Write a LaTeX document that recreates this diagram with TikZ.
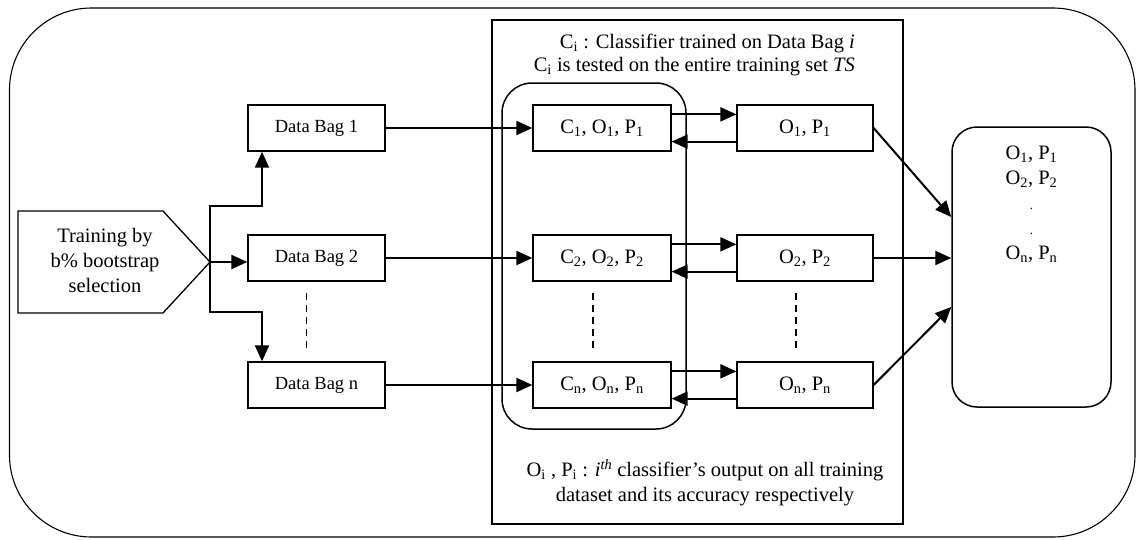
\documentclass[tikz,border=0pt]{standalone}
\usepackage{fontspec}
\setmainfont{Liberation Serif}
\usetikzlibrary{arrows.meta,calc}
\newcommand\sbs[1]{\textsubscript{#1}}
\newcommand\tinydot{{\fontsize{13}{25}\selectfont .}}
\begin{document}
\begin{tikzpicture}[x=1pt,y=-1pt,
 box/.style={draw,line width=1.3pt,minimum height=46pt,inner sep=0pt,font=\fontsize{20.5}{24}\selectfont},
 bag/.style={box,minimum width=137pt,font=\fontsize{18.5}{22}\selectfont},
 cbox/.style={box,minimum width=138pt},
 obox/.style={box,minimum width=136pt},
 arr/.style={line width=2pt,-{Triangle[length=16pt,width=14pt]}},
 dashes/.style={line width=1.3pt,dash pattern=on 7pt off 5pt},
 txt/.style={font=\fontsize{20.5}{24}\selectfont,inner sep=0pt}]
\useasboundingbox (0,0) rectangle (1136,539);
\draw[line width=1.1pt,rounded corners=82pt] (9.5,8) rectangle (1135,537);
\draw[line width=1.3pt] (492,20) rectangle (903,524);
\draw[line width=1.5pt,rounded corners=30pt] (502,83) rectangle (686,429);
% pentagon
\draw[line width=1.3pt] (18,211) -- (163,211) -- (210,262) -- (163,313) -- (18,313) -- cycle;
\node[txt,align=center,font=\fontsize{20.5}{25}\selectfont] (train) at (105,260) {Training by\\b\% bootstrap\\selection};
\coordinate (tip) at (210,262);
% bags
\node[bag] (db1) at (316.5,128) {Data Bag 1};
\node[bag] (db2) at (316.5,258) {Data Bag 2};
\node[bag] (dbn) at (316.5,385) {Data Bag n};
% classifiers
\node[cbox] (c1) at (602,128) {C\sbs{1}, O\sbs{1}, P\sbs{1}};
\node[cbox] (c2) at (602,258) {C\sbs{2}, O\sbs{2}, P\sbs{2}};
\node[cbox] (cn) at (602,385) {C\sbs{n}, O\sbs{n}, P\sbs{n}};
% outputs
\node[obox] (o1) at (805,128) {O\sbs{1}, P\sbs{1}};
\node[obox] (o2) at (805,258) {O\sbs{2}, P\sbs{2}};
\node[obox] (on) at (805,385) {O\sbs{n}, P\sbs{n}};
% final
\node[draw,line width=1.5pt,rounded corners=25pt,minimum width=159pt,minimum height=280pt,inner sep=0pt] (fin) at (1031.5,267) {};
\node[txt,align=center,anchor=north,font=\fontsize{20.5}{25}\selectfont] (fintxt) at (1031.5,146) {O\sbs{1}, P\sbs{1}\\O\sbs{2}, P\sbs{2}\\\tinydot\\\tinydot\\O\sbs{n}, P\sbs{n}};
% annotations
\node[txt,align=right,anchor=north east,font=\fontsize{20.5}{23}\selectfont] (toptxt) at (855,34) {C\sbs{i} : Classifier trained on Data Bag \textit{i}\\C\sbs{i} is tested on the entire training set \textit{TS}};
\node[txt,align=center,anchor=north,font=\fontsize{20.5}{25}\selectfont] (bottxt) at (705,459) {O\sbs{i} , P\sbs{i} : \textit{i}\textsuperscript{\textit{th}} classifier’s output on all training\\dataset and its accuracy respectively};
% branching arrows
\coordinate (bt) at (262,206);
\coordinate (bb) at (262,312);
\draw[arr] (tip) -- (db2.west|-tip);
\draw[arr] (tip) -- (tip|-bt) -- (bt) -- (bt|-db1.south);
\draw[arr] (tip) -- (tip|-bb) -- (bb) -- (bb|-dbn.north);
% bag to classifier
\draw[arr] (db1.east) -- (c1.west);
\draw[arr] (db2.east) -- (c2.west);
\draw[arr] (dbn.east) -- (cn.west);
% classifier <-> output
\foreach \c/\o in {c1/o1,c2/o2,cn/on}{
  \draw[arr] ($(\c.north east)+(0,10)$) -- ($(\o.north west)+(0,10)$);
  \draw[arr] ($(\o.south west)+(0,-10)$) -- ($(\c.south east)+(0,-10)$);
}
% outputs to final
\draw[arr] (o1.east) -- ($(fin.west)+(0,-50)$);
\draw[arr] (o2.east) -- (o2.east-|fin.west);
\draw[arr] (on.east) -- ($(fin.west)+(0,40)$);
% dashed
\draw[dashes] ($(db2.south)+(-10,11)$) -- ($(dbn.north)+(-10,-13)$);
\draw[dashes] ($(c2.south)+(-9,11)$) -- ($(cn.north)+(-9,-13)$);
\draw[dashes] ($(o2.south)+(-9,11)$) -- ($(on.north)+(-9,-13)$);
\end{tikzpicture}
\end{document}
